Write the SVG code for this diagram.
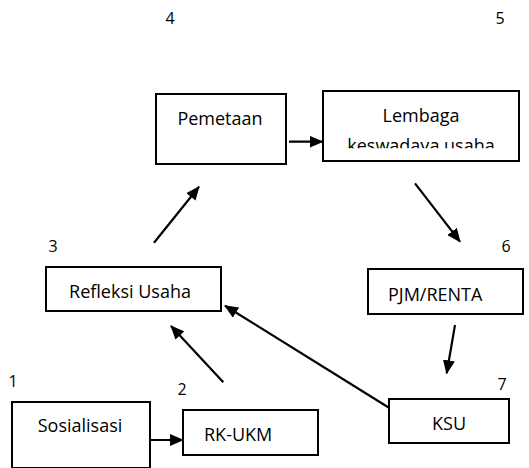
<svg xmlns="http://www.w3.org/2000/svg" width="529" height="468" viewBox="0 0 529 468">
<style>
.box{fill:#fff;stroke:#000;stroke-width:2}
text{font-family:"Open Sans","Liberation Sans",Arial,sans-serif;font-size:18px;fill:#000}
.num{font-size:16px}
.c{stroke:#000;stroke-width:2.2;fill:none}
</style>
<defs>
<marker id="ah" markerUnits="userSpaceOnUse" markerWidth="14" markerHeight="12" refX="13" refY="6" orient="auto">
<path d="M0,0 L14,6 L0,12 Z" fill="#000"/>
</marker>
<clipPath id="clipL"><rect x="323" y="91" width="196" height="57.3"/></clipPath>
</defs>
<rect width="529" height="468" fill="#fff"/>
<g id="labels">
<text class="num" x="170" y="24" text-anchor="middle">4</text>
<text class="num" x="500" y="24" text-anchor="middle">5</text>
<text class="num" x="53" y="252" text-anchor="middle">3</text>
<text class="num" x="506" y="252" text-anchor="middle">6</text>
<text class="num" x="13" y="387" text-anchor="middle">1</text>
<text class="num" x="182" y="395" text-anchor="middle">2</text>
<text class="num" x="502" y="390" text-anchor="middle">7</text>
</g>
<g id="pemetaan">
<rect class="box" x="156" y="94" width="130" height="70"/>
<text x="220" y="125" text-anchor="middle">Pemetaan</text>
</g>
<g id="lembaga">
<rect class="box" x="323" y="91" width="196" height="70"/>
<text x="421" y="122" text-anchor="middle">Lembaga</text>
<text x="421" y="152" text-anchor="middle" clip-path="url(#clipL)">keswadaya usaha</text>
</g>
<g id="refleksi">
<rect class="box" x="46" y="267" width="175" height="44"/>
<text x="130" y="298" text-anchor="middle">Refleksi Usaha</text>
</g>
<g id="pjm">
<rect class="box" x="368" y="269" width="155" height="45"/>
<text x="388" y="301">PJM/RENTA</text>
</g>
<g id="sosialisasi">
<rect class="box" x="12" y="402" width="138" height="66"/>
<text x="80" y="432" text-anchor="middle">Sosialisasi</text>
</g>
<g id="rkukm">
<rect class="box" x="183" y="410" width="135" height="45"/>
<text x="204" y="441">RK-UKM</text>
</g>
<g id="ksu">
<rect class="box" x="389" y="399" width="120" height="44"/>
<text x="449" y="430" text-anchor="middle">KSU</text>
</g>
<g id="connectors">
<line class="c" x1="289" y1="141.7" x2="322.5" y2="141.7" marker-end="url(#ah)"/>
<line class="c" x1="415" y1="183.3" x2="460" y2="241.7" marker-end="url(#ah)"/>
<line class="c" x1="455" y1="325" x2="446.7" y2="373.3" marker-end="url(#ah)"/>
<line class="c" x1="389" y1="407.7" x2="225" y2="305.7" marker-end="url(#ah)"/>
<line class="c" x1="223.3" y1="382.3" x2="171" y2="326" marker-end="url(#ah)"/>
<line class="c" x1="154" y1="242.7" x2="199" y2="186.7" marker-end="url(#ah)"/>
<line class="c" x1="150" y1="440" x2="183" y2="440" marker-end="url(#ah)"/>
</g>
</svg>
